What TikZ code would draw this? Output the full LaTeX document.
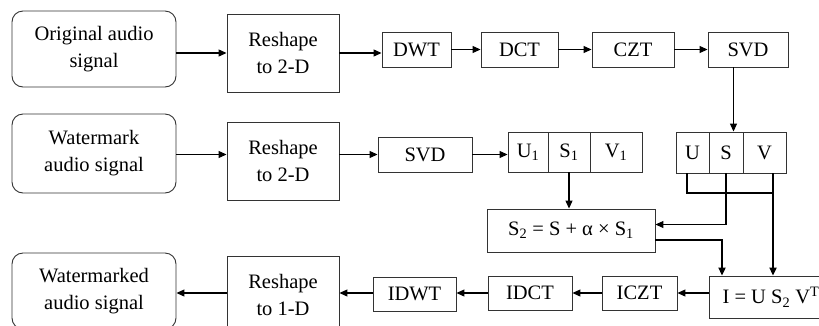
\documentclass[tikz,border=0pt]{standalone}
\usepackage{fontspec}
\setmainfont{Liberation Serif}
\usetikzlibrary{arrows.meta,calc}
\begin{document}
\begin{tikzpicture}[x=1pt,y=-1pt,
  every node/.style={font=\fontsize{20.5}{27}\selectfont},
  box/.style={draw=black!80, line width=0.9pt, fill=white, inner sep=0pt, align=center},
  rbox/.style={box, rounded corners=11pt},
  arr/.style={draw=black, line width=1.1pt, -{Triangle[length=8pt,width=7pt]}},
  tline/.style={draw=black, line width=2pt},
  tarr/.style={tline, -{Triangle[length=8pt,width=7pt]}}
]
\useasboundingbox (0,0) rectangle (819,325);
\clip (0,0) rectangle (819,325);
\fill[white] (0,0) rectangle (819,325);

% row 1
\node[rbox, minimum width=164pt, minimum height=76pt] (orig) at (94,49) {Original audio\\signal};
\node[box, minimum width=112pt, minimum height=78pt] (rs1) at (283,53) {Reshape\\to 2-D};
\node[box, minimum width=69pt, minimum height=35pt] (dwt) at (416.5,49.5) {DWT};
\node[box, minimum width=77pt, minimum height=35pt] (dct) at (519.5,49.5) {DCT};
\node[box, minimum width=82pt, minimum height=35pt] (czt) at (633,49.5) {CZT};
\node[box, minimum width=80pt, minimum height=35pt] (svd1) at (748,49.5) {SVD};

% row 2
\node[rbox, minimum width=164pt, minimum height=79pt] (wm) at (94,153.5) {Watermark\\audio signal};
\node[box, minimum width=112pt, minimum height=78pt] (rs2) at (283,161) {Reshape\\to 2-D};
\node[box, minimum width=94pt, minimum height=35pt] (svd2) at (425,154.5) {SVD};
\node[box, minimum width=40pt, minimum height=40pt] (u1) at (528,152) {U\textsubscript{1}};
\node[box, minimum width=42pt, minimum height=40pt] (s1) at (569,152) {S\textsubscript{1}};
\node[box, minimum width=52pt, minimum height=40pt] (v1) at (616,152) {V\textsubscript{1}};
\node[box, minimum width=33pt, minimum height=41pt] (uu) at (692.5,152.5) {U};
\node[box, minimum width=34pt, minimum height=41pt] (ss) at (726,152.5) {S};
\node[box, minimum width=43pt, minimum height=41pt] (vv) at (764.5,152.5) {V};
\node[box, minimum width=168pt, minimum height=43pt] (s2) at (571,230.5) {S\textsubscript{2} = S + α × S\textsubscript{1}};

% row 3
\node[rbox, minimum width=164pt, minimum height=76pt] (wmd) at (94,291) {Watermarked\\audio signal};
\node[box, minimum width=112pt, minimum height=78pt] (rs3) at (283,295) {Reshape\\to 1-D};
\node[box, minimum width=83pt, minimum height=34pt] (idwt) at (414.5,294) {IDWT};
\node[box, minimum width=84pt, minimum height=34pt] (idct) at (530,293) {IDCT};
\node[box, minimum width=75pt, minimum height=34pt] (iczt) at (639.5,293) {ICZT};
\node[box, minimum width=124pt, minimum height=42pt] (ib) at (771,297) {I = U S\textsubscript{2} V\textsuperscript{T}};

% connectors row 1
\draw[arr] (orig.east |- rs1) -- (rs1.west);
\draw[arr] (rs1.east) -- (rs1.east -| dwt.west);
\draw[arr] (dwt) -- (dct);
\draw[arr] (dct) -- (czt);
\draw[arr] (czt) -- (svd1);
\coordinate (sv) at ([xshift=-14.5pt]svd1.south);
\draw[arr] (sv) -- (sv |- ss.north);

% connectors row 2
\draw[arr] (wm.east |- svd2) -- (rs2.west |- svd2);
\draw[arr] (rs2.east |- svd2) -- (svd2.west);
\draw[arr] (svd2.east) -- (svd2.east -| u1.west);
\draw[arr] (s1.south) -- (s1.south |- s2.north);
\draw[arr] (ss.south) |- ([yshift=6pt]s2.east);

% thick joins to I
\coordinate (vx) at ([xshift=8.5pt]vv.south);
\coordinate (ux) at ([xshift=-5.5pt]uu.south);
\draw[tline] (ux) -- ++(0,20) -| (vx);
\draw[tarr] (vx) -- (vx |- ib.north);
\draw[tarr] ([yshift=-9.5pt]s2.east) -| ([xshift=-49pt]ib.north);

% connectors row 3
\draw[arr] (ib.west |- iczt) -- (iczt.east);
\draw[arr] (iczt) -- (idct);
\draw[arr] (idct.west) -- (idct.west -| idwt.east);
\draw[arr] (idwt.west |- idct) -- (idwt.west |- idct -| rs3.east);
\draw[arr] (rs3.west |- idct) -- (rs3.west |- idct -| wmd.east);
\end{tikzpicture}
\end{document}
